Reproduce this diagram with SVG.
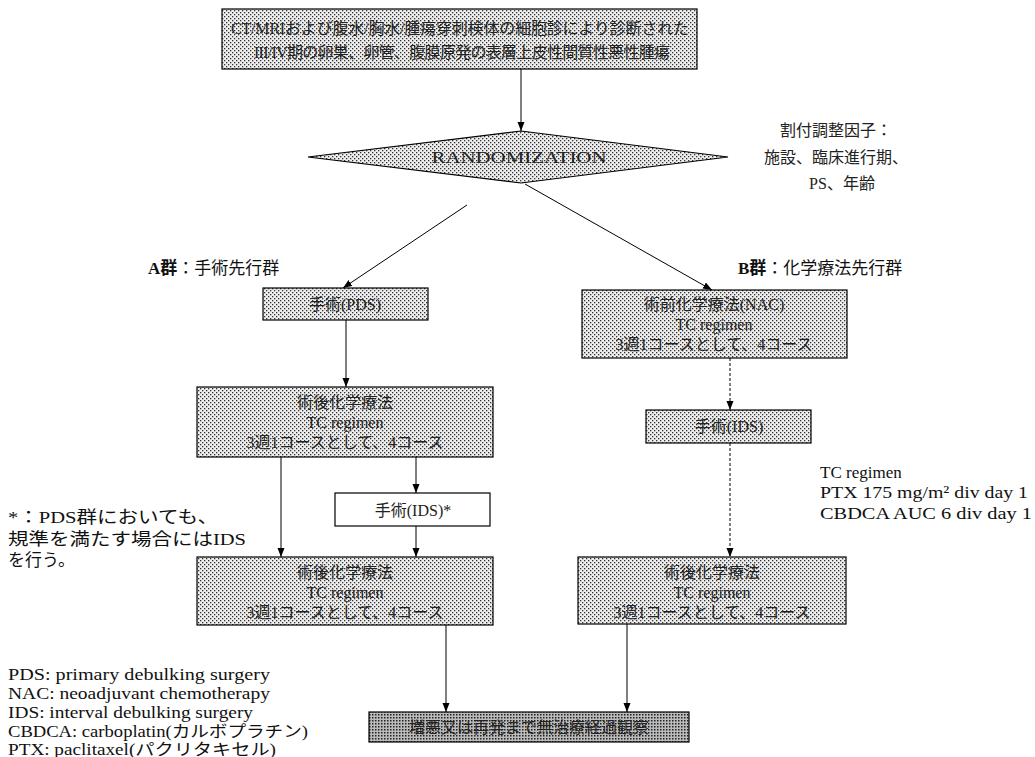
<svg xmlns="http://www.w3.org/2000/svg" width="1035" height="757" viewBox="0 0 1035 757">
<defs>
<pattern id="dots" width="4" height="4" patternUnits="userSpaceOnUse">
<rect width="4" height="4" fill="#eeeeee"/>
<rect x="0" y="0" width="1.3" height="1.3" fill="#333"/>
<rect x="2" y="2" width="1.3" height="1.3" fill="#333"/>
</pattern>
<pattern id="dots2" width="3" height="3" patternUnits="userSpaceOnUse">
<rect width="3" height="3" fill="#bbb"/>
<rect x="0" y="0" width="1.5" height="1.5" fill="#222"/>
</pattern>
<marker id="ah" markerUnits="userSpaceOnUse" markerWidth="10" markerHeight="8" refX="9" refY="3.5" orient="auto">
<path d="M0,0 L9,3.5 L0,7 z" fill="#000"/>
</marker>
</defs>
<style>
.box{fill:url(#dots);stroke:#000;stroke-width:1.2}
.wbox{fill:#fff;stroke:#000;stroke-width:1.2}
.dark{fill:url(#dots2);stroke:#000;stroke-width:1.2}
.t{font-family:"Liberation Serif","Noto Sans CJK JP",serif;font-size:16px;fill:#222;text-anchor:middle;dominant-baseline:central}
.tl{font-family:"Liberation Serif","Noto Sans CJK JP",serif;font-size:17px;fill:#111;dominant-baseline:central}
.lg{font-size:16px}
.ar{stroke:#000;stroke-width:1;fill:none;marker-end:url(#ah)}
.da{stroke:#000;stroke-width:1;fill:none;stroke-dasharray:3 2;marker-end:url(#ah)}
</style>

<g id="top">
<rect class="box" x="222" y="9" width="475" height="60"/>
<text class="t" x="460" y="28" textLength="458" lengthAdjust="spacing">CT/MRIおよび腹水/胸水/腫瘍穿刺検体の細胞診により診断された</text>
<text class="t" x="462" y="52" textLength="416" lengthAdjust="spacing">III/IV期の卵巣、卵管、腹膜原発の表層上皮性間質性悪性腫瘍</text>
</g>

<g id="randomization">
<polygon class="box" points="308,157 521,131 728,157 521,183"/>
<text class="t" x="519" y="157" textLength="175" lengthAdjust="spacingAndGlyphs">RANDOMIZATION</text>
</g>

<g id="factors">
<text class="t" x="836" y="130">割付調整因子：</text>
<text class="t" x="836" y="157">施設、臨床進行期、</text>
<text class="t" x="842" y="183">PS、年齢</text>
</g>

<g id="labelA">
<text class="tl" x="148" y="268" font-size="16"><tspan font-weight="bold">A群</tspan>：手術先行群</text>
</g>
<g id="labelB">
<text class="tl" x="738" y="268" font-size="16"><tspan font-weight="bold">B群</tspan>：化学療法先行群</text>
</g>

<g id="pds">
<rect class="box" x="263" y="288" width="165" height="32"/>
<text class="t" x="345" y="304">手術(PDS)</text>
</g>

<g id="nac">
<rect class="box" x="582" y="290" width="265" height="68"/>
<text class="t" x="714" y="304">術前化学療法(NAC)</text>
<text class="t" x="714" y="324">TC regimen</text>
<text class="t" x="714" y="344">3週1コースとして、4コース</text>
</g>

<g id="postA1">
<rect class="box" x="197" y="387" width="296" height="70"/>
<text class="t" x="345" y="402">術後化学療法</text>
<text class="t" x="345" y="422">TC regimen</text>
<text class="t" x="345" y="442">3週1コースとして、4コース</text>
</g>

<g id="idsB">
<rect class="box" x="646" y="410" width="165" height="33"/>
<text class="t" x="729" y="426">手術(IDS)</text>
</g>

<g id="idsA">
<rect class="wbox" x="335" y="493" width="155" height="33"/>
<text class="t" x="413" y="510" font-size="18">手術(IDS)*</text>
</g>

<g id="postA2">
<rect class="box" x="197" y="557" width="296" height="68"/>
<text class="t" x="345" y="572">術後化学療法</text>
<text class="t" x="345" y="592">TC regimen</text>
<text class="t" x="345" y="612">3週1コースとして、4コース</text>
</g>

<g id="postB">
<rect class="box" x="578" y="557" width="268" height="67"/>
<text class="t" x="712" y="572">術後化学療法</text>
<text class="t" x="712" y="592">TC regimen</text>
<text class="t" x="712" y="612">3週1コースとして、4コース</text>
</g>

<g id="followup">
<rect class="dark" x="369" y="712" width="320" height="30"/>
<text class="t" x="529" y="727" fill="#111">増悪又は再発まで無治療経過観察</text>
</g>

<g id="connectors">
<line class="ar" x1="521" y1="69" x2="521" y2="131"/>
<line class="ar" x1="467" y1="205" x2="343" y2="288"/>
<line class="ar" x1="525" y1="184" x2="712" y2="290"/>
<line class="ar" x1="346" y1="320" x2="346" y2="387"/>
<line class="da" x1="730" y1="358" x2="730" y2="410"/>
<line class="ar" x1="281" y1="457" x2="281" y2="557"/>
<line class="ar" x1="416" y1="457" x2="416" y2="493"/>
<line class="ar" x1="416" y1="526" x2="416" y2="557"/>
<line class="da" x1="730" y1="443" x2="730" y2="557"/>
<line class="ar" x1="446" y1="625" x2="446" y2="712"/>
<line class="ar" x1="627" y1="624" x2="627" y2="712"/>
</g>

<g id="note-star">
<text class="tl" x="8" y="517" textLength="210" lengthAdjust="spacingAndGlyphs">*：PDS群においても、</text>
<text class="tl" x="8" y="539" textLength="238" lengthAdjust="spacingAndGlyphs">規準を満たす場合にはIDS</text>
<text class="tl" x="8" y="560">を行う。</text>
</g>

<g id="note-tc">
<text class="tl" x="820" y="472">TC regimen</text>
<text class="tl" x="820" y="492" textLength="208" lengthAdjust="spacingAndGlyphs">PTX 175 mg/m² div day 1</text>
<text class="tl" x="820" y="513" textLength="212" lengthAdjust="spacingAndGlyphs">CBDCA AUC 6 div day 1</text>
</g>

<g id="legend">
<text class="tl lg" x="8" y="674" textLength="262" lengthAdjust="spacingAndGlyphs">PDS: primary debulking surgery</text>
<text class="tl lg" x="8" y="693" textLength="262" lengthAdjust="spacingAndGlyphs">NAC: neoadjuvant chemotherapy</text>
<text class="tl lg" x="8" y="712" textLength="245" lengthAdjust="spacingAndGlyphs">IDS: interval debulking surgery</text>
<text class="tl lg" x="8" y="731" textLength="300" lengthAdjust="spacingAndGlyphs">CBDCA: carboplatin(カルボプラチン)</text>
<text class="tl lg" x="8" y="749" textLength="268" lengthAdjust="spacingAndGlyphs">PTX: paclitaxel(パクリタキセル)</text>
</g>
</svg>
